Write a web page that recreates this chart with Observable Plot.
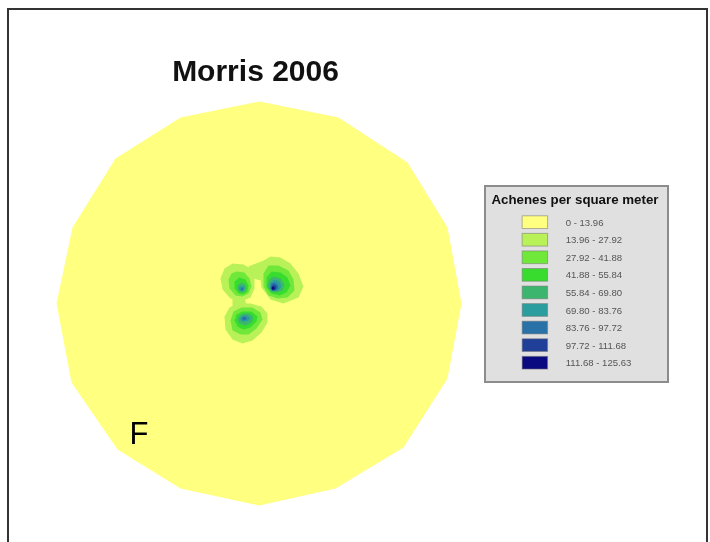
<!DOCTYPE html>
<html>
<head>
<meta charset="utf-8">
<script src="https://cdn.jsdelivr.net/npm/d3@7"></script>
<script src="https://cdn.jsdelivr.net/npm/@observablehq/plot@0.6"></script>
<style>
  html,body{margin:0;padding:0;background:#fff;width:710px;height:542px;overflow:hidden}
  #frame{position:absolute;left:7px;top:8px;width:701px;height:540px;border:2px solid #333;box-sizing:border-box}
  #map,#legend{position:absolute}
  #map{left:0;top:0}
  #legend{left:484px;top:185px;width:185px;height:198px;background:#e0e0e0;border:2px solid #8c8c8c;box-sizing:border-box}
  #legend svg{position:absolute;left:-2px;top:-2px;background:transparent}
  #map svg{background:transparent}
  svg g[aria-label="line"]{filter:blur(.7px)}
  svg text{filter:blur(.3px)}
</style>
</head>
<body>
<div id="frame"></div>
<div id="map"></div>
<div id="legend"></div>
<script>
const title = "Morris 2006";
const panelLabel = "F";
const legendTitle = "Achenes per square meter";
const ranges = ["0 - 13.96","13.96 - 27.92","27.92 - 41.88","41.88 - 55.84","55.84 - 69.80","69.80 - 83.76","83.76 - 97.72","97.72 - 111.68","111.68 - 125.63"];
const colors = ["#ffff80","#b9f158","#70e83a","#38dc2e","#3cb56e","#2a9e9e","#2872a8","#1f3f98","#0a0a80"];

// Plot boundary (map units)
const site = [[259,101],[338,117],[407,162],[447,227],[461,303],[447,378],[403,447],[335,488],[259,505],[180,488],[117,449],[71,382],[56,303],[72,227],[115,158],[180,117]];

// Contour rings per density class
const rightBlob = [
  [[263,260],[270,256],[280,257],[290,263],[298,273],[303,286],[298,297],[283,303],[270,299],[261,287],[259,271]],
  [[268,265],[278,265],[288,270],[293,279],[294,290],[287,297],[277,298],[268,295],[263,286],[263,273]],
  [[271,271],[280,272],[287,277],[290,285],[286,292],[279,295],[271,293],[266,287],[266,277]],
  [[273,276],[280,278],[284,284],[282,290],[276,292],[270,291],[267,285],[269,279]],
  [[274,279],[279,281],[281,286],[278,290],[273,291],[269,288],[270,282]],
  [[274,282],[277,284],[278,288],[275,290],[271,290],[270,287],[271,283]],
  [[273,284],[276,286],[275,289],[272,290],[271,287]],
  [[272,286],[274,287],[274,289],[272,289],[271,288]]
];
const leftBlob = [
  [[232,263],[243,264],[250,268],[254,277],[254,288],[250,297],[241,301],[230,298],[222,289],[220,278],[224,268]],
  [[236,271],[244,272],[249,278],[251,286],[248,293],[242,296],[235,295],[229,288],[228,279],[231,273]],
  [[239,277],[245,279],[248,285],[247,291],[243,294],[238,293],[234,288],[234,281]],
  [[241,282],[245,284],[246,288],[244,291],[240,292],[237,289],[237,285]],
  [[241,285],[244,286],[244,289],[242,291],[239,290],[238,287]],
  [[241,287],[243,288],[242,290],[240,289]]
];
const bottomBlob = [
  [[237,303],[250,303],[261,306],[267,313],[267,322],[261,332],[252,340],[242,343],[232,339],[225,329],[224,316],[229,307]],
  [[241,307],[252,307],[260,312],[262,319],[256,328],[248,334],[240,334],[232,330],[230,320],[233,311]],
  [[242,311],[251,311],[257,316],[256,321],[250,327],[243,329],[237,326],[234,320],[236,314]],
  [[243,313],[249,313],[253,317],[251,322],[245,325],[239,323],[237,319],[239,315]],
  [[243,315],[247,315],[250,318],[246,321],[241,321],[239,318]],
  [[243,316],[246,317],[246,319],[243,320],[241,318]]
];
const bridges = [
  [[248,266],[263,260],[260,280],[253,278]],
  [[232,298],[244,298],[246,304],[232,306]]
];

const rows = [];
for (const [name, blob] of [["right",rightBlob],["left",leftBlob],["bottom",bottomBlob]]) {
  blob.forEach((ring, i) => ring.forEach(([x,y]) => rows.push({id:name+i, level:i+1, cls:ranges[i+1], x, y})));
}
bridges.forEach((ring, i) => ring.forEach(([x,y]) => rows.push({id:"bridge"+i, level:1, cls:ranges[1], x, y})));
rows.sort((a,b) => a.level - b.level);

const color = {type:"ordinal", domain:ranges, range:colors};

const map = Plot.plot({
  width:710, height:542,
  marginTop:0, marginRight:0, marginBottom:0, marginLeft:0,
  x:{domain:[0,710], range:[0,710], axis:null},
  y:{domain:[0,542], range:[0,542], axis:null},
  color,
  marks:[
    Plot.line(site, {x:d=>d[0], y:d=>d[1], fill:()=>ranges[0], stroke:"none", curve:"linear-closed"}),
    Plot.line(rows, {x:"x", y:"y", z:"id", fill:"cls", stroke:"none", curve:"linear-closed"}),
    Plot.text([title], {x:()=>255, y:()=>80, text:d=>d, fontSize:30, fontWeight:"bold", fontFamily:"Liberation Sans", fill:"#111", lineAnchor:"bottom"}),
    Plot.text([panelLabel], {x:()=>129, y:()=>443, text:d=>d, fontSize:31, fontFamily:"Liberation Sans", fill:"#000", textAnchor:"start", lineAnchor:"bottom"})
  ]
});
document.getElementById("map").appendChild(map);

const slots = ["swatch","label"];
const legend = Plot.plot({
  width:185, height:198,
  marginTop:0, marginRight:0, marginBottom:0, marginLeft:0,
  x:{type:"band", domain:slots, range:[39,91], padding:0, round:false, axis:null},
  y:{type:"band", domain:ranges, range:[29,190.6], paddingInner:.276, paddingOuter:.138, round:false, axis:null},
  color,
  marks:[
    Plot.cell(ranges, {x:()=>"swatch", y:d=>d, fill:d=>d, stroke:"#777", strokeOpacity:.55}),
    Plot.text(ranges, {x:()=>"label", y:d=>d, text:d=>d, textAnchor:"start", dx:5, fontSize:9.8, fontFamily:"Liberation Sans", fill:"#555"}),
    Plot.text([legendTitle], {frameAnchor:"top", dy:9, text:d=>d, fontSize:13.6, fontWeight:"bold", fontFamily:"Liberation Sans", fill:"#111"})
  ]
});
document.getElementById("legend").appendChild(legend);
</script>
</body>
</html>
